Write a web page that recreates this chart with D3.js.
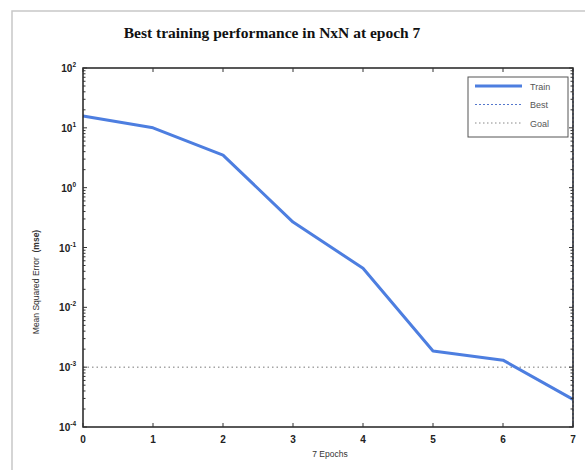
<!DOCTYPE html>
<html>
<head>
<meta charset="utf-8">
<script src="https://cdn.jsdelivr.net/npm/d3@7"></script>
<style>
  body { margin: 0; background: #fff; }
  svg { display: block; }
</style>
</head>
<body>
<svg width="585" height="475"></svg>
<script>
// values
const epochs = [0, 1, 2, 3, 4, 5, 6, 7];
const train_mse = [15.8, 10.0, 3.5, 0.266, 0.045, 0.00186, 0.00131, 0.00029];
const goal = 0.001;
const best_epoch = 7;
const y_ticks = [2, 1, 0, -1, -2, -3, -4]; // exponents
const legend_items = ["Train", "Best", "Goal"];

const width = 585, height = 475;
const m = { left: 83, right: 573, top: 68, bottom: 427 };

const svg = d3.select("svg");

const x = d3.scaleLinear([0, 7], [m.left, m.right]);
const y = d3.scaleLog([1e-4, 1e2], [m.bottom, m.top]);

// scanned page frame
svg.append("path")
  .attr("d", `M12,470 L12,11 L585,11`)
  .attr("fill", "none")
  .attr("stroke", "#c8c8c8")
  .attr("stroke-width", 1.5);

// title
svg.append("text")
  .attr("x", 272)
  .attr("y", 38)
  .attr("text-anchor", "middle")
  .attr("font-family", "Liberation Serif, serif")
  .attr("font-weight", "bold")
  .attr("font-size", 15.5)
  .attr("fill", "#111")
  .text("Best training performance in NxN at epoch 7");

// goal line
svg.append("line")
  .attr("x1", x(0)).attr("x2", x(7))
  .attr("y1", y(goal)).attr("y2", y(goal))
  .attr("stroke", "#777")
  .attr("stroke-width", 1)
  .attr("stroke-dasharray", "1.5,3");

// best line (vertical at best epoch)
svg.append("line")
  .attr("x1", x(best_epoch)).attr("x2", x(best_epoch))
  .attr("y1", m.bottom).attr("y2", m.top)
  .attr("stroke", "#5577cc")
  .attr("stroke-width", 1)
  .attr("stroke-dasharray", "2,2");

// train line
const line = d3.line()
  .x((d, i) => x(epochs[i]))
  .y(d => y(d));
svg.append("path")
  .datum(train_mse)
  .attr("d", line)
  .attr("fill", "none")
  .attr("stroke", "#4d7ee0")
  .attr("stroke-width", 3)
  .attr("stroke-linejoin", "round");

// axes box
svg.append("rect")
  .attr("x", m.left).attr("y", m.top)
  .attr("width", m.right - m.left).attr("height", m.bottom - m.top)
  .attr("fill", "none")
  .attr("stroke", "#222")
  .attr("stroke-width", 1.5);

// ticks (inward, MATLAB style)
const ticks = svg.append("g").attr("stroke", "#333").attr("stroke-width", 1);
epochs.forEach(e => {
  ticks.append("line").attr("x1", x(e)).attr("x2", x(e)).attr("y1", m.bottom).attr("y2", m.bottom - 4);
  ticks.append("line").attr("x1", x(e)).attr("x2", x(e)).attr("y1", m.top).attr("y2", m.top + 4);
});
y.ticks().forEach(v => {
  const major = Math.abs(Math.log10(v) - Math.round(Math.log10(v))) < 1e-9;
  const len = major ? 4 : 2.5;
  ticks.append("line").attr("x1", m.left).attr("x2", m.left + len).attr("y1", y(v)).attr("y2", y(v));
  ticks.append("line").attr("x1", m.right).attr("x2", m.right - len).attr("y1", y(v)).attr("y2", y(v));
});

// x tick labels
svg.append("g")
  .selectAll("text")
  .data(epochs)
  .join("text")
    .attr("x", d => x(d))
    .attr("y", 443)
    .attr("text-anchor", "middle")
    .attr("font-family", "Liberation Sans, Arial, sans-serif")
    .attr("font-size", 10)
    .attr("font-weight", "bold")
    .attr("fill", "#222")
    .text(d => d);

// y tick labels 10^n
const ylab = svg.append("g")
  .selectAll("text")
  .data(y_ticks)
  .join("text")
    .attr("x", m.left - 7)
    .attr("y", d => y(Math.pow(10, d)) + 4)
    .attr("text-anchor", "end")
    .attr("font-family", "Liberation Sans, Arial, sans-serif")
    .attr("font-size", 10)
    .attr("font-weight", "bold")
    .attr("fill", "#222");
ylab.append("tspan").text("10");
ylab.append("tspan")
  .attr("dy", -5)
  .attr("font-size", 6.5)
  .text(d => d);

// axis labels
svg.append("text")
  .attr("x", 330)
  .attr("y", 457)
  .attr("text-anchor", "middle")
  .attr("font-family", "Liberation Sans, Arial, sans-serif")
  .attr("font-size", 8.5)
  .attr("fill", "#333")
  .text("7 Epochs");

const ytitle = svg.append("text")
  .attr("transform", "translate(39,282) rotate(-90)")
  .attr("text-anchor", "middle")
  .attr("font-family", "Liberation Sans, Arial, sans-serif")
  .attr("font-size", 8.5)
  .attr("fill", "#333")
  .attr("xml:space", "preserve");
ytitle.append("tspan").text("Mean Squared Error  ");
ytitle.append("tspan").attr("font-weight", "bold").text("(mse)");

// legend
const lg = svg.append("g").attr("transform", "translate(468,77)");
lg.append("rect")
  .attr("width", 100).attr("height", 60)
  .attr("fill", "#fff")
  .attr("stroke", "#555")
  .attr("stroke-width", 1);
const lstyles = [
  { stroke: "#4d7ee0", w: 3, dash: null },
  { stroke: "#5577cc", w: 1.2, dash: "2,2" },
  { stroke: "#888", w: 1, dash: "1.5,2.5" }
];
legend_items.forEach((name, i) => {
  const yy = 9 + i * 18.5;
  lg.append("line")
    .attr("x1", 7).attr("x2", 54)
    .attr("y1", yy).attr("y2", yy)
    .attr("stroke", lstyles[i].stroke)
    .attr("stroke-width", lstyles[i].w)
    .attr("stroke-dasharray", lstyles[i].dash);
  lg.append("text")
    .attr("x", 62)
    .attr("y", yy + 3.5)
    .attr("font-family", "Liberation Sans, Arial, sans-serif")
    .attr("font-size", 9)
    .attr("fill", "#555")
    .text(name);
});
</script>
</body>
</html>
